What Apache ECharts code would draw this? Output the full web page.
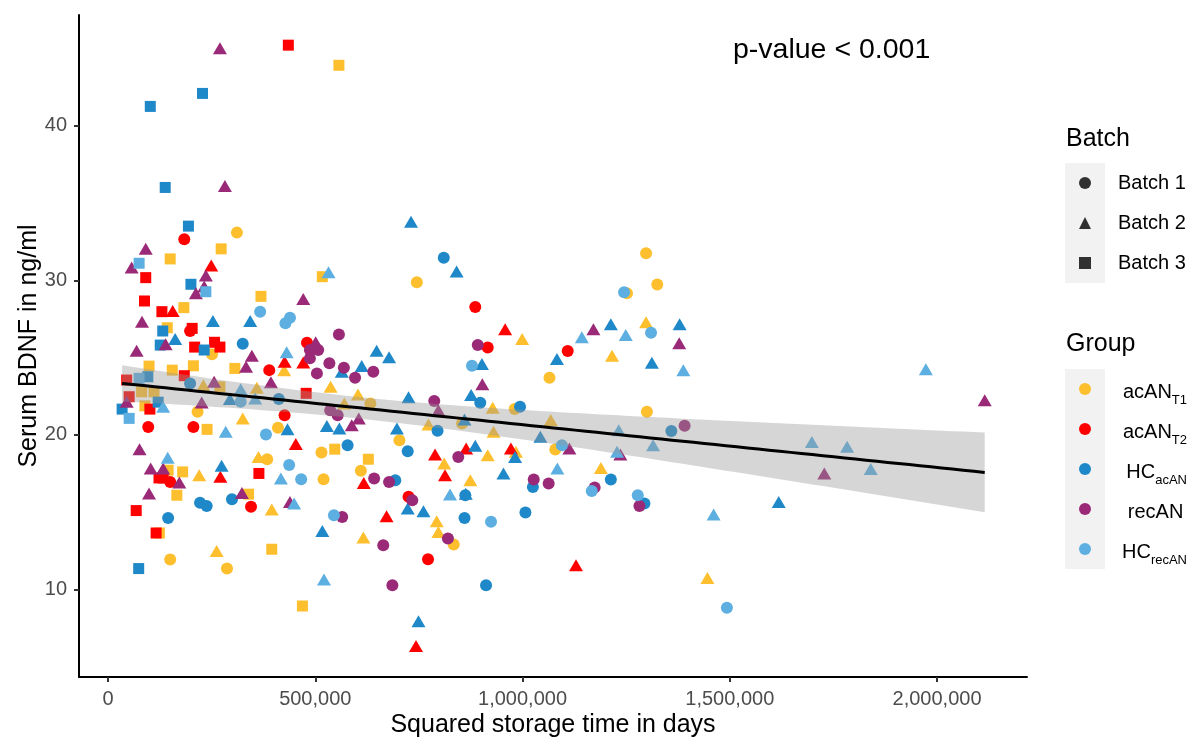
<!DOCTYPE html>
<html lang="en">
<head>
<meta charset="UTF-8">
<title>Serum BDNF vs storage time</title>
<script src="https://cdn.jsdelivr.net/npm/echarts@6/dist/echarts.min.js"></script>
<style>
    body { margin: 0; background: #fff; }
    #chart { width: 1190px; height: 738px; }
</style>
</head>
<body>
<div id="chart"></div>
<script>
// each point: [squared storage time in days, serum BDNF ng/ml, batch 1-3]
var acANT1 = [
    [557000,43.9,3],[273000,32.03,3],[150000,31.38,3],[183000,28.23,3],[369000,28.96,3],[517000,30.23,3],
    [143000,26.93,3],[306000,24.3,3],[99000,24.45,3],[155000,24.19,3],[206000,24.47,3],[270000,23.11,3],
    [239000,20.36,3],[89000,21.88,3],[81000,22.79,3],[111000,22.79,3],[547000,19.08,3],[628000,18.43,3],
    [145000,17.72,3],[180000,17.61,3],[166000,16.1,3],[124000,13.66,3],[339000,16.17,3],[395000,12.61,3],
    [469000,8.94,3],
    [311000,33.08,1],[251000,25.21,1],[633000,22.04,1],[703000,19.66,1],[515000,18.87,1],[410000,20.46,1],
    [216000,21.5,1],[384000,18.43,1],[150000,11.94,1],[287000,11.36,1],[520000,17.14,1],[610000,17.68,1],
    [745000,29.87,1],[854000,20.74,1],[981000,21.67,1],[1065000,23.7,1],[1252000,29.16,1],[1298000,31.75,1],
    [1325000,29.72,1],[1300000,21.5,1],[1079000,19.06,1],[834000,12.91,1],
    [425000,24.19,2],[230000,23.22,2],[359000,23.05,2],[537000,23.11,2],[603000,22.62,2],[570000,22.04,2],
    [325000,21.07,2],[363000,18.58,2],[220000,17.4,2],[262000,12.5,2],[395000,15.18,2],[616000,13.37,2],
    [999000,26.2,2],[773000,20.68,2],[928000,21.75,2],[930000,20.2,2],[1068000,20.96,2],[1216000,25.12,2],
    [1298000,27.28,2],[916000,18.69,2],[984000,18.91,2],[811000,18.16,2],[874000,17.07,2],[793000,14.42,2],
    [797000,13.73,2],[1189000,17.87,2],[1446000,10.75,2]
];
var acANT2 = [
    [435000,45.2,3],[91000,30.17,3],[88000,28.66,3],[130000,27.97,3],[203000,26.89,3],[209000,25.68,3],
    [257000,25.99,3],[270000,25.68,3],[184000,23.83,3],[45000,23.55,3],[478000,22.69,3],[101000,21.67,3],
    [51000,22.47,3],[123000,17.22,3],[133000,17.22,3],[68000,15.11,3],[116000,13.66,3],[364000,17.51,3],
    [184000,32.65,1],[198000,26.72,1],[480000,25.96,1],[389000,24.19,1],[426000,21.28,1],[206000,20.52,1],
    [97000,20.52,1],[150000,16.96,1],[345000,15.35,1],[886000,28.27,1],[916000,25.66,1],[1109000,25.42,1],
    [725000,16.0,1],[772000,11.96,1],
    [249000,30.95,2],[156000,28.01,2],[426000,24.73,2],[471000,24.69,2],[453000,19.42,2],[271000,17.29,2],
    [617000,16.9,2],[672000,14.74,2],[958000,26.83,2],[789000,18.74,2],[972000,19.13,2],[864000,19.13,2],
    [813000,17.4,2],[1129000,11.57,2],[743000,6.35,2]
];
var hcAcAN = [
    [228000,42.08,3],[102000,41.24,3],[138000,36.0,3],[194000,33.5,3],[200000,29.74,3],[132000,26.72,3],
    [126000,25.81,3],[232000,25.49,3],[96000,23.76,3],[121000,22.12,3],[34000,21.67,3],[74000,11.36,3],
    [325000,25.9,1],[198000,23.33,1],[412000,22.32,1],[578000,19.34,1],[145000,14.63,1],[222000,15.61,1],
    [238000,15.41,1],[299000,15.84,1],[693000,17.07,1],[810000,31.46,1],[795000,20.27,1],[898000,22.08,1],
    [994000,21.82,1],[1359000,20.25,1],[723000,18.95,1],[862000,16.1,1],[860000,14.63,1],[1007000,14.98,1],
    [912000,10.28,1],[1025000,16.64,1],[1213000,17.12,1],[1294000,15.57,1],
    [731000,33.79,2],[253000,27.37,2],[343000,27.37,2],[162000,26.2,2],[564000,24.08,2],[612000,24.45,2],
    [648000,25.44,2],[678000,25.03,2],[294000,22.32,2],[528000,20.57,2],[558000,20.42,2],[697000,20.42,2],
    [433000,20.36,2],[274000,18.0,2],[517000,13.79,2],[841000,30.56,2],[902000,24.58,2],[876000,22.58,2],
    [725000,22.43,2],[860000,21.0,2],[1043000,19.88,2],[1083000,24.91,2],[1213000,27.15,2],[1312000,24.67,2],
    [1379000,27.15,2],[982000,18.58,2],[886000,19.3,2],[954000,17.51,2],[863000,16.19,2],[723000,15.24,2],
    [761000,15.07,2],[749000,7.95,2],[1618000,15.67,2]
];
var recAN = [
    [270000,45.0,2],[282000,36.1,2],[91000,32.03,2],[57000,30.82,2],[236000,30.3,2],[232000,29.59,2],
    [212000,29.16,2],[82000,27.32,2],[471000,28.79,2],[139000,25.86,2],[69000,25.44,2],[501000,25.99,2],
    [347000,25.12,2],[333000,24.41,2],[256000,23.44,2],[393000,23.4,2],[605000,21.07,2],[588000,20.63,2],
    [226000,22.1,2],[45000,22.14,2],[76000,19.08,2],[103000,17.83,2],[133000,17.83,2],[172000,16.93,2],
    [99000,16.21,2],[323000,16.25,2],[439000,15.67,2],[903000,23.27,2],[797000,21.6,2],[1113000,19.13,2],
    [1171000,26.83,2],[1378000,25.92,2],[1236000,18.74,2],[1728000,17.51,2],[2115000,22.25,2],
    [487000,25.49,1],[507000,25.49,1],[487000,24.95,1],[557000,26.5,1],[504000,23.98,1],[534000,24.63,1],
    [569000,24.34,1],[596000,23.7,1],[640000,24.08,1],[536000,21.6,1],[554000,21.28,1],[565000,14.7,1],
    [642000,17.18,1],[678000,16.96,1],[664000,12.87,1],[686000,10.28,1],[892000,25.81,1],[787000,22.19,1],
    [845000,18.58,1],[734000,15.78,1],[820000,13.3,1],[1027000,17.12,1],[1063000,16.86,1],[1174000,16.6,1],
    [1282000,15.41,1],[1391000,20.59,1]
];
var hcRecAN = [
    [75000,31.1,3],[236000,29.26,3],[75000,23.66,3],[51000,21.07,3],
    [367000,27.97,1],[428000,27.22,1],[439000,27.58,1],[320000,22.14,1],[381000,20.03,1],[437000,18.05,1],
    [466000,17.14,1],[545000,14.81,1],[878000,24.47,1],[1245000,29.22,1],[1310000,26.61,1],[1095000,19.34,1],
    [924000,14.38,1],[1167000,16.38,1],[1278000,16.1,1],[1493000,8.83,1],
    [532000,30.52,2],[431000,25.34,2],[320000,22.96,2],[355000,22.36,2],[133000,21.82,2],[284000,20.2,2],
    [144000,18.52,2],[417000,17.18,2],[449000,15.57,2],[521000,10.65,2],[1143000,26.31,2],[1249000,26.46,2],
    [1388000,24.19,2],[1232000,20.31,2],[1315000,19.34,2],[1228000,18.91,2],[825000,16.15,2],[1084000,17.83,2],
    [1461000,14.85,2],[1973000,24.24,2],[1698000,19.55,2],[1783000,19.23,2],[1840000,17.79,2]
];

var groupNames = ['acAN_T1', 'acAN_T2', 'HC_acAN', 'recAN', 'HC_recAN'];
var groupColors = ['#FDBF2D', '#FF0000', '#1F88C9', '#9A2A78', '#5CAFE0'];
var groupData = [acANT1, acANT2, hcAcAN, recAN, hcRecAN];
var batchNames = ['Batch 1', 'Batch 2', 'Batch 3'];
var batchSymbols = ['circle', 'triangle', 'rect'];
var xTicks = [0, 500000, 1000000, 1500000, 2000000];
var yTicks = [10, 20, 30, 40];

var FONT = '"Liberation Sans", Arial, sans-serif';

// linear fit with 95% confidence band (like geom_smooth(method = "lm"))
var all = [].concat(acANT1, acANT2, hcAcAN, recAN, hcRecAN);
var n = all.length, mx = 0, my = 0;
all.forEach(function (p) { mx += p[0]; my += p[1]; });
mx /= n; my /= n;
var sxx = 0, sxy = 0;
all.forEach(function (p) { sxx += (p[0] - mx) * (p[0] - mx); sxy += (p[0] - mx) * (p[1] - my); });
var slope = sxy / sxx, icpt = my - slope * mx;
var sse = 0;
all.forEach(function (p) { var r = p[1] - (icpt + slope * p[0]); sse += r * r; });
var sd = Math.sqrt(sse / (n - 2));
var tq = 1.968;
var xmin = Math.min.apply(null, all.map(function (p) { return p[0]; }));
var xmax = Math.max.apply(null, all.map(function (p) { return p[0]; }));
var fitLine = [], bandLow = [], bandHigh = [];
for (var i = 0; i <= 80; i++) {
    var x = xmin + (xmax - xmin) * i / 80;
    var yhat = icpt + slope * x;
    var se = sd * Math.sqrt(1 / n + (x - mx) * (x - mx) / sxx);
    fitLine.push([x, yhat]);
    bandLow.push([x, yhat - tq * se]);
    bandHigh.push([x, yhat + tq * se]);
}

function symbolOf(v) { return batchSymbols[v[2] - 1]; }
function sizeOf(v) { return v[2] === 2 ? [14, 12] : (v[2] === 3 ? 11 : 12); }

var series = [];
groupNames.forEach(function (g, k) {
    series.push({
        name: g,
        type: 'scatter',
        data: groupData[k],
        symbol: symbolOf,
        symbolSize: sizeOf,
        itemStyle: { color: groupColors[k], opacity: 1 },
        z: 2
    });
});
batchNames.forEach(function (b, k) {
    series.push({ name: b, type: 'scatter', data: [], symbol: batchSymbols[k], itemStyle: { color: '#000' } });
});
// confidence band as one polygon, drawn over the points
series.push({
    name: 'ci', type: 'custom', data: [0], z: 3, silent: true,
    renderItem: function (params, api) {
        var pts = bandHigh.map(function (p) { return api.coord(p); })
            .concat(bandLow.slice().reverse().map(function (p) { return api.coord(p); }));
        return { type: 'polygon', shape: { points: pts }, style: { fill: 'rgba(153,153,153,0.4)' } };
    }
});
series.push({
    name: 'fit', type: 'line', data: fitLine, symbol: 'none',
    lineStyle: { color: '#000', width: 3 }, z: 4, silent: true
});

function groupLabel(name) {
    var parts = name.split('_');
    return '{m|' + parts[0] + '}{s|' + (parts[1] || ' ') + '}';
}

var myChart = echarts.init(document.getElementById('chart'));
var option = {
    animation: false,
    backgroundColor: '#fff',
    textStyle: { fontFamily: FONT },
    grid: { left: 79, right: 163, top: 15, bottom: 61, outerBoundsMode: 'none', containLabel: false },
    xAxis: {
        type: 'value', min: -70000, max: 2217000,
        splitLine: { show: false },
        axisLine: { onZero: false, lineStyle: { color: '#000', width: 2 } },
        axisTick: { customValues: xTicks, length: 5, lineStyle: { color: '#333', width: 2 } },
        axisLabel: {
            customValues: xTicks, margin: 12, fontSize: 20, color: '#4D4D4D', fontFamily: FONT,
            formatter: function (v) { return v.toLocaleString('en-US'); }
        },
        name: 'Squared storage time in days', nameLocation: 'middle', nameGap: 36, nameMoveOverlap: false,
        nameTextStyle: { fontSize: 25, color: '#000', fontFamily: FONT }
    },
    yAxis: {
        type: 'value', min: 4.35, max: 47.15,
        splitLine: { show: false },
        axisLine: { onZero: false, lineStyle: { color: '#000', width: 2 } },
        axisTick: { customValues: yTicks, length: 5, lineStyle: { color: '#333', width: 2 } },
        axisLabel: { customValues: yTicks, margin: 12, fontSize: 20, color: '#4D4D4D', fontFamily: FONT },
        name: 'Serum BDNF in ng/ml', nameLocation: 'middle', nameGap: 37, nameMoveOverlap: false,
        nameTextStyle: { fontSize: 25, color: '#000', fontFamily: FONT }
    },
    legend: [{
        data: batchNames.map(function (b, k) { return { name: b, icon: batchSymbols[k] }; }),
        orient: 'vertical', left: 1079, top: 173, padding: 0,
        itemWidth: 12, itemHeight: 12, itemGap: 20, selectedMode: false,
        formatter: function (name) { return '{b|' + name + '}'; },
        textStyle: {
            color: '#000', fontFamily: FONT,
            rich: { b: { fontSize: 20, lineHeight: 20, padding: [0, 0, 0, 22], fontFamily: FONT, color: '#000' } }
        }
    }, {
        data: groupNames.map(function (g) { return { name: g, icon: 'circle' }; }),
        orient: 'vertical', left: 1079, top: 379, padding: 0,
        itemWidth: 12, itemHeight: 12, itemGap: 12, selectedMode: false,
        formatter: groupLabel,
        textStyle: {
            color: '#000', fontFamily: FONT, width: 91,
            rich: {
                m: { fontSize: 20, lineHeight: 20, align: 'right', verticalAlign: 'top', padding: [3, 0, 0, 0], fontFamily: FONT, color: '#000' },
                s: { fontSize: 13, lineHeight: 13, align: 'right', verticalAlign: 'top', padding: [15, 0, 0, 0], fontFamily: FONT, color: '#000' }
            }
        }
    }],
    graphic: [
        { type: 'rect', left: 1065, top: 163, z: -1, shape: { width: 40, height: 120 }, style: { fill: '#F2F2F2' } },
        { type: 'rect', left: 1065, top: 369, z: -1, shape: { width: 40, height: 200 }, style: { fill: '#F2F2F2' } },
        { type: 'text', x: 1066, y: 139.6, style: { text: 'Batch', fontSize: 25, fontFamily: FONT, fill: '#000', verticalAlign: 'middle' } },
        { type: 'text', x: 1066, y: 344.6, style: { text: 'Group', fontSize: 25, fontFamily: FONT, fill: '#000', verticalAlign: 'middle' } },
        { type: 'text', x: 733, y: 50, style: { text: 'p-value < 0.001', fontSize: 28.5, fontFamily: FONT, fill: '#000', verticalAlign: 'middle' } }
    ],
    series: series
};
myChart.setOption(option);
</script>
</body>
</html>
